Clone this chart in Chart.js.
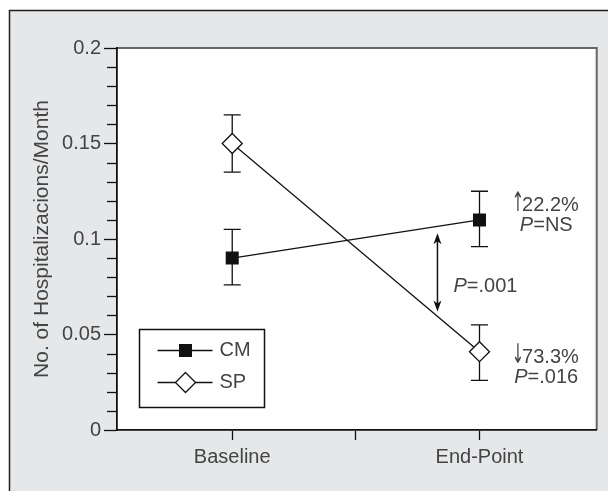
<!DOCTYPE html>
<html>
<head>
<meta charset="utf-8">
<script src="https://cdn.jsdelivr.net/npm/chart.js@4.4.0/dist/chart.umd.min.js"></script>
<style>
  html, body { margin: 0; padding: 0; background: #fff; }
  canvas { display: block; }
</style>
</head>
<body>
<canvas id="chart" width="608" height="491"></canvas>
<script>
// --- data ---
const categories = ['Baseline', 'End-Point'];
const categoryX = [1, 2];
const xTicks = [1, 1.5, 2];

const yTicks = [0, 0.05, 0.1, 0.15, 0.2];
const yTickLabels = ['0', '0.05', '0.1', '0.15', '0.2'];
const yMinorStep = 0.01;

// CM = case management, SP = standard practice
const cmValues = [0.09, 0.11];
const cmLow = [0.076, 0.096];
const cmHigh = [0.105, 0.125];

const spValues = [0.15, 0.041];
const spLow = [0.135, 0.026];
const spHigh = [0.165, 0.055];

// notes next to the end-point
const cmNote = ['↑', '22.2%', 'NS'];
const spNote = ['↓', '73.3%', '.016'];
const diffNote = '.001';
const diffArrow = [0.103, 0.062];   // span of the double arrow (y values)

// --- look ---
const FONT = '"Liberation Sans", Arial, Helvetica, sans-serif';
const TEXT = '#444';
const INK = '#111';

// parts: [text, style]  style: '' normal, 'i' italic, 'a' narrow arrow glyph
function setPartFont(ctx, style) {
    if (style === 'a') ctx.font = '27px "DejaVu Sans", sans-serif';
    else ctx.font = (style === 'i' ? 'italic ' : '') + '20px ' + FONT;
}
const ARROW_SX = 0.55;

function richText(ctx, parts, cx, cy) {
    let w = 0;
    parts.forEach(([t, s]) => {
        setPartFont(ctx, s);
        w += ctx.measureText(t).width * (s === 'a' ? ARROW_SX : 1);
    });
    let x = cx - w / 2;
    ctx.textAlign = 'left';
    ctx.textBaseline = 'middle';
    ctx.fillStyle = TEXT;
    parts.forEach(([t, s]) => {
        setPartFont(ctx, s);
        const tw = ctx.measureText(t).width;
        if (s === 'a') {
            ctx.save();
            ctx.translate(x, cy);
            ctx.scale(ARROW_SX, 1);
            ctx.fillText(t, 0, -1);
            ctx.restore();
            x += tw * ARROW_SX - 2;
        } else {
            ctx.fillText(t, x, cy);
            x += tw;
        }
    });
}

function errorBars(ctx, xs, ys, lows, highs) {
    for (let i = 0; i < categoryX.length; i++) {
        const px = xs.getPixelForValue(categoryX[i]);
        const top = ys.getPixelForValue(highs[i]);
        const bot = ys.getPixelForValue(lows[i]);
        ctx.beginPath();
        ctx.moveTo(px, top); ctx.lineTo(px, bot);
        ctx.moveTo(px - 8.5, top); ctx.lineTo(px + 8.5, top);
        ctx.moveTo(px - 8.5, bot); ctx.lineTo(px + 8.5, bot);
        ctx.stroke();
    }
}

const framePlugin = {
    id: 'frame',
    beforeDraw(chart) {
        const { ctx, chartArea: a, width, height } = chart;
        ctx.save();
        ctx.fillStyle = '#e6e7e8';
        ctx.fillRect(9, 10, width - 9, height - 10);
        ctx.strokeStyle = '#231f20';
        ctx.lineWidth = 1.5;
        ctx.beginPath();
        ctx.moveTo(9.5, height); ctx.lineTo(9.5, 10.5); ctx.lineTo(width, 10.5);
        ctx.stroke();
        ctx.fillStyle = '#fff';
        ctx.fillRect(a.left, a.top, a.right - a.left, a.bottom - a.top);
        ctx.strokeStyle = '#666';
        ctx.lineWidth = 2;
        ctx.beginPath();
        ctx.moveTo(a.left, a.top); ctx.lineTo(a.right, a.top); ctx.lineTo(a.right, a.bottom);
        ctx.stroke();
        ctx.restore();
    },
    beforeDatasetsDraw(chart) {
        const { ctx, scales: { x, y } } = chart;
        ctx.save();
        ctx.strokeStyle = INK;
        ctx.lineWidth = 1.3;
        errorBars(ctx, x, y, cmLow, cmHigh);
        errorBars(ctx, x, y, spLow, spHigh);

        // minor ticks on the y axis
        const left = chart.chartArea.left;
        for (let v = yMinorStep; v < y.max; v += yMinorStep) {
            if (Math.abs(v / 0.05 - Math.round(v / 0.05)) < 1e-6) continue;
            const py = Math.round(y.getPixelForValue(v)) + 0.5;
            ctx.beginPath();
            ctx.moveTo(left - 10, py); ctx.lineTo(left, py);
            ctx.stroke();
        }
        ctx.restore();
    },
    afterDraw(chart) {
        const { ctx, chartArea: a, scales: { x, y } } = chart;
        ctx.save();

        // double arrow between the two end-points
        const ax = x.getPixelForValue(1.83);
        const ay1 = y.getPixelForValue(diffArrow[0]);
        const ay2 = y.getPixelForValue(diffArrow[1]);
        ctx.strokeStyle = INK;
        ctx.fillStyle = INK;
        ctx.lineWidth = 1.5;
        ctx.beginPath();
        ctx.moveTo(ax, ay1 + 6); ctx.lineTo(ax, ay2 - 6);
        ctx.stroke();
        ctx.beginPath();
        ctx.moveTo(ax, ay1); ctx.lineTo(ax - 4, ay1 + 11); ctx.lineTo(ax, ay1 + 8); ctx.lineTo(ax + 4, ay1 + 11);
        ctx.closePath(); ctx.fill();
        ctx.beginPath();
        ctx.moveTo(ax, ay2); ctx.lineTo(ax - 4, ay2 - 11); ctx.lineTo(ax, ay2 - 8); ctx.lineTo(ax + 4, ay2 - 11);
        ctx.closePath(); ctx.fill();
        richText(ctx, [['P', 'i'], ['=' + diffNote, '']], ax + 48, y.getPixelForValue(0.0752));

        // notes to the right of the end-point
        const nx = x.getPixelForValue(2.27);
        richText(ctx, [[cmNote[0], 'a'], [cmNote[1], '']], nx, y.getPixelForValue(0.1178));
        richText(ctx, [['P', 'i'], ['=' + cmNote[2], '']], nx, y.getPixelForValue(0.1073));
        richText(ctx, [[spNote[0], 'a'], [spNote[1], '']], nx, y.getPixelForValue(0.0382));
        richText(ctx, [['P', 'i'], ['=' + spNote[2], '']], nx, y.getPixelForValue(0.0277));

        // legend box
        const bx = a.left + 22.5, by = a.top + 281.5, bw = 125, bh = 78;
        ctx.fillStyle = '#fff';
        ctx.fillRect(bx, by, bw, bh);
        ctx.strokeStyle = INK;
        ctx.lineWidth = 1.5;
        ctx.strokeRect(bx, by, bw, bh);
        const rows = [
            { label: 'CM', y: by + 21, square: true },
            { label: 'SP', y: by + 53, square: false }
        ];
        rows.forEach(r => {
            const mx = bx + 46;
            ctx.strokeStyle = INK;
            ctx.lineWidth = 1.3;
            ctx.beginPath();
            ctx.moveTo(bx + 18, r.y); ctx.lineTo(bx + 73, r.y);
            ctx.stroke();
            if (r.square) {
                ctx.fillStyle = INK;
                ctx.fillRect(mx - 6.5, r.y - 6.5, 13, 13);
            } else {
                ctx.fillStyle = '#fff';
                ctx.beginPath();
                ctx.moveTo(mx, r.y - 10); ctx.lineTo(mx + 10, r.y);
                ctx.lineTo(mx, r.y + 10); ctx.lineTo(mx - 10, r.y);
                ctx.closePath();
                ctx.fill(); ctx.stroke();
            }
            ctx.fillStyle = TEXT;
            ctx.font = '20px ' + FONT;
            ctx.textAlign = 'left';
            ctx.textBaseline = 'middle';
            ctx.fillText(r.label, bx + 80, r.y);
        });
        ctx.restore();
    }
};

new Chart(document.getElementById('chart'), {
    type: 'scatter',
    data: {
        datasets: [
            {
                label: 'CM',
                data: categoryX.map((v, i) => ({ x: v, y: cmValues[i] })),
                showLine: true,
                borderColor: INK,
                borderWidth: 1.3,
                pointStyle: 'rect',
                pointRadius: 9.2,
                pointBackgroundColor: INK,
                pointBorderColor: INK,
                pointBorderWidth: 0
            },
            {
                label: 'SP',
                data: categoryX.map((v, i) => ({ x: v, y: spValues[i] })),
                showLine: true,
                borderColor: INK,
                borderWidth: 1.3,
                pointStyle: 'rectRot',
                pointRadius: 10,
                pointBackgroundColor: '#fff',
                pointBorderColor: INK,
                pointBorderWidth: 1.3
            }
        ]
    },
    options: {
        responsive: false,
        animation: false,
        devicePixelRatio: 1,
        layout: { padding: { top: 48, right: 8, left: 0, bottom: 0 } },
        plugins: {
            legend: { display: false },
            tooltip: { enabled: false }
        },
        scales: {
            x: {
                type: 'linear',
                min: 0.534,
                max: 2.474,
                afterBuildTicks: s => { s.ticks = xTicks.map(v => ({ value: v })); },
                afterFit: s => { s.height = 61; },
                grid: { drawOnChartArea: false, tickLength: 10, tickColor: INK, tickWidth: 1.3 },
                border: { color: INK, width: 1.8 },
                ticks: {
                    autoSkip: false,
                    maxRotation: 0,
                    padding: 5,
                    color: TEXT,
                    font: { family: FONT, size: 20 },
                    callback: v => {
                        const i = categoryX.indexOf(v);
                        return i < 0 ? '' : categories[i];
                    }
                }
            },
            y: {
                min: 0,
                max: 0.2,
                afterBuildTicks: s => { s.ticks = yTicks.map(v => ({ value: v })); },
                afterFit: s => { s.width = 117; },
                grid: { drawOnChartArea: false, tickLength: 13, tickColor: INK, tickWidth: 1.3 },
                border: { color: INK, width: 1.8 },
                ticks: {
                    padding: 3,
                    color: TEXT,
                    font: { family: FONT, size: 20 },
                    callback: (v, i) => yTickLabels[i]
                },
                title: {
                    display: true,
                    text: 'No. of Hospitalizacions/Month',
                    color: TEXT,
                    font: { family: FONT, size: 21 },
                    padding: { top: 30, bottom: 0 }
                }
            }
        }
    },
    plugins: [framePlugin]
});
</script>
</body>
</html>
